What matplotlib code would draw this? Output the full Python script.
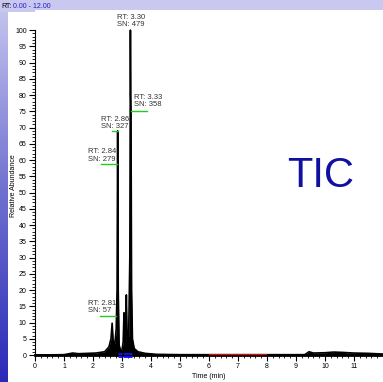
import matplotlib
matplotlib.use("Agg")
import matplotlib.pyplot as plt
import numpy as np
from matplotlib.colors import LinearSegmentedColormap
from matplotlib.ticker import MultipleLocator

plt.rcParams['font.family'] = ['Liberation Sans', 'DejaVu Sans']

# chromatogram trace (time in min, relative abundance)
times = [0.0, 1.0, 1.3, 1.5, 1.8, 2.1, 2.4, 2.55, 2.62, 2.66, 2.69, 2.72, 2.76,
         2.80, 2.83, 2.85, 2.87, 2.90, 2.95, 3.00, 3.04, 3.07, 3.10, 3.12, 3.15,
         3.17, 3.20, 3.23, 3.27, 3.29, 3.30, 3.31, 3.33, 3.36, 3.42, 3.55, 3.8,
         4.2, 5.0, 9.3, 9.45, 9.6, 10.0, 10.3, 10.6, 11.0, 11.5, 12.0]
abund = [0.0, 0.1, 0.6, 0.4, 0.5, 0.6, 1.0, 2.5, 5.0, 9.8, 5.0, 3.0, 4.0,
         8.0, 20.0, 69.0, 20.0, 3.0, 1.5, 1.5, 4.0, 13.0, 5.0, 3.0, 18.5,
         8.0, 4.0, 6.0, 30.0, 100.0, 80.0, 75.0, 20.0, 5.0, 2.0, 1.0, 0.5,
         0.2, 0.1, 0.1, 1.0, 0.6, 0.7, 0.9, 0.8, 0.6, 0.5, 0.3]

# peak labels: rt, sn, text x, text y (data), green line x-range, line y
peak_rt = ["3.30", "3.33", "2.86", "2.84", "2.81"]
peak_sn = ["479", "358", "327", "279", "57"]
label_x = [3.30, 3.43, 2.27, 1.82, 1.82]
label_y = [100.6, 75.9, 69.2, 59.2, 12.5]
label_ha = ["center", "left", "left", "left", "left"]
line_x0 = [None, 3.32, 2.67, 2.27, 2.23]
line_x1 = [None, 3.87, 2.85, 2.84, 2.81]
line_y = [None, 75.2, 68.9, 58.8, 12.0]

blue_segs = [(2.87, 3.0), (3.05, 3.33)]
red_segs = [(6.0, 8.0)]

fig = plt.figure(figsize=(3.83, 3.82), dpi=100)

# left gradient strip
cm = LinearSegmentedColormap.from_list("g", ["#c8c8f0", "#7070d0", "#2a2ab8"])
gax = fig.add_axes([0, 0, 8 / 383, 1])
gax.imshow(np.linspace(0, 1, 256).reshape(-1, 1), aspect='auto', cmap=cm)
gax.axis('off')

# top strip
tax = fig.add_axes([0, 1 - 12 / 382, 1, 12 / 382])
tax.set_facecolor("#c8c8f0")
tax.set_xticks([])
tax.set_yticks([])
for s in tax.spines.values():
    s.set_visible(False)
tax.text(1 / 383, 0.5, "RT:", fontsize=5, va='center', ha='left', transform=tax.transAxes)
tax.text(13 / 383, 0.5, "0.00 - 12.00", fontsize=5, va='center', ha='left', color='#2020c0',
         transform=tax.transAxes)

ax = fig.add_axes([35 / 383, 27 / 382, 348 / 383, 345 / 382])
ax.fill_between(times, abund, color='black', lw=0)
ax.plot(times, abund, color='black', lw=1.2)
ax.plot([0, 12], [0, 0], color='black', lw=2, clip_on=False)
for a, b in blue_segs:
    ax.plot([a, b], [0, 0], color='#1010ff', lw=3.5, solid_capstyle='butt', clip_on=False)
for a, b in red_segs:
    ax.plot([a, b], [0, 0], color='#ff0000', lw=1.5, solid_capstyle='butt', clip_on=False)

for rt, sn, x, y, ha, x0, x1, ly in zip(peak_rt, peak_sn, label_x, label_y, label_ha,
                                         line_x0, line_x1, line_y):
    ax.text(x, y, "RT: " + rt + "\nSN: " + sn, fontsize=5.5, ha=ha, va='bottom',
            color='#333333', linespacing=1.1, clip_on=False)
    if x0 is not None:
        ax.plot([x0, x1], [ly, ly], color='#22cc22', lw=1)

ax.text(9.85, 55, "TIC", fontsize=30, color='#1010a0', ha='center', va='center')

ax.set_xlim(0, 12)
ax.set_ylim(0, 106.2)
ax.spines['top'].set_visible(False)
ax.spines['right'].set_visible(False)
ax.spines['left'].set_bounds(0, 100)
ax.set_yticks(range(0, 101, 5))
ax.set_yticks(range(0, 101), minor=True)
ax.set_xticks(range(0, 12))
ax.xaxis.set_minor_locator(MultipleLocator(0.2))
ax.tick_params(which='major', length=4, width=0.8, labelsize=5, pad=2)
ax.tick_params(which='minor', length=2.5, width=0.6)
ax.set_xlabel("Time (min)", fontsize=5, labelpad=2)
ax.set_ylabel("Relative Abundance", fontsize=5)
ax.yaxis.set_label_coords(-18 / 348, 100 / 106.2 / 2 + 0.02)

fig.savefig("out.png", dpi=100)
